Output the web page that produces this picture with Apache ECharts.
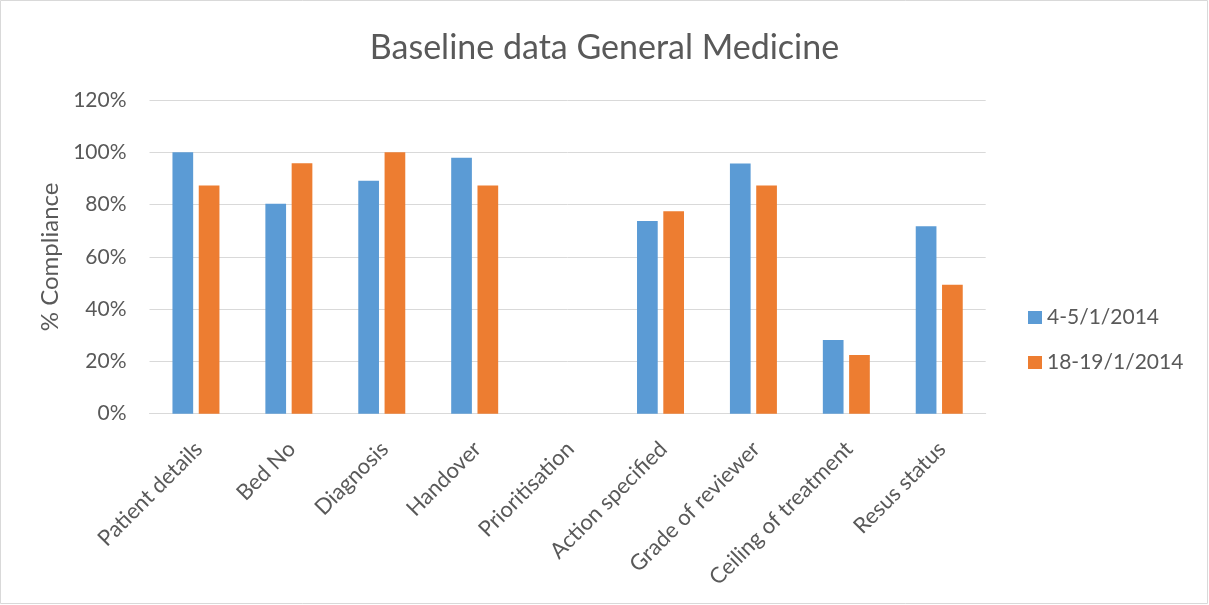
<!DOCTYPE html>
<html>
<head>
<meta charset="utf-8">
<script src="https://cdn.jsdelivr.net/npm/echarts@6/dist/echarts.min.js"></script>
<style>
html,body{margin:0;padding:0;background:#fff;}
#chart{width:1209px;height:605px;}
</style>
</head>
<body>
<div id="chart"></div>
<script>
const categories = ["Patient details","Bed No","Diagnosis","Handover","Prioritisation","Action specified","Grade of reviewer","Ceiling of treatment","Resus status"];
const seriesNames = ["4-5/1/2014","18-19/1/2014"];
const jan4_5 = [100, 80.3, 89.1, 97.9, 0, 73.7, 95.7, 28.2, 71.7];
const jan18_19 = [87.3, 95.8, 100, 87.3, 0, 77.4, 87.3, 22.5, 49.3];
const yTicks = [0, 20, 40, 60, 80, 100, 120];

const FONT = 'Lato';
const TXT = '#595959';
const chart = echarts.init(document.getElementById('chart'), null, {renderer:'canvas'});
chart.setOption({
  backgroundColor:'#fff',
  animation:false,
  textStyle:{fontFamily:FONT,color:TXT},
  title:{
    text:'Baseline data General Medicine',
    left:'center', top:26,
    textStyle:{fontFamily:FONT,fontSize:34,fontWeight:'normal',color:TXT}
  },
  graphic:[{
    type:'rect', silent:true,
    shape:{x:0.5,y:0.5,width:1207,height:603},
    style:{fill:'none',stroke:'#D9D9D9',lineWidth:1}
  }],
  legend:{
    orient:'vertical',
    left:1023, top:302,
    itemWidth:14, itemHeight:13, itemGap:24,
    icon:'rect',
    textStyle:{fontFamily:FONT,fontSize:21,color:TXT,lineHeight:20},
    data:seriesNames
  },
  grid:{left:149.5,right:223.3,top:100,bottom:191.3,containLabel:false},
  xAxis:{
    type:'category',
    data:categories,
    axisLine:{show:true,lineStyle:{color:'#D9D9D9',width:1}},
    axisTick:{show:false},
    axisLabel:{rotate:45,interval:0,margin:19,align:'right',verticalAlign:'top',
      padding:[0,7,0,0],
      fontFamily:FONT,fontSize:22,color:TXT}
  },
  yAxis:{
    type:'value',
    min:yTicks[0], max:yTicks[yTicks.length-1], interval:20,
    name:'% Compliance',
    nameLocation:'middle',
    nameGap:87,
    nameTextStyle:{fontFamily:FONT,fontSize:24,color:TXT},
    axisLine:{show:false},
    axisTick:{show:false},
    axisLabel:{formatter:'{value}%',margin:23,fontFamily:FONT,fontSize:21,color:TXT},
    splitLine:{lineStyle:{color:'#D9D9D9',width:1}}
  },
  series:[
    {name:seriesNames[0],type:'bar',data:jan4_5,barWidth:20.7,barGap:'27%',itemStyle:{color:'#5B9BD5'}},
    {name:seriesNames[1],type:'bar',data:jan18_19,barWidth:20.7,barGap:'27%',itemStyle:{color:'#ED7D31'}}
  ]
});
</script>
</body>
</html>
